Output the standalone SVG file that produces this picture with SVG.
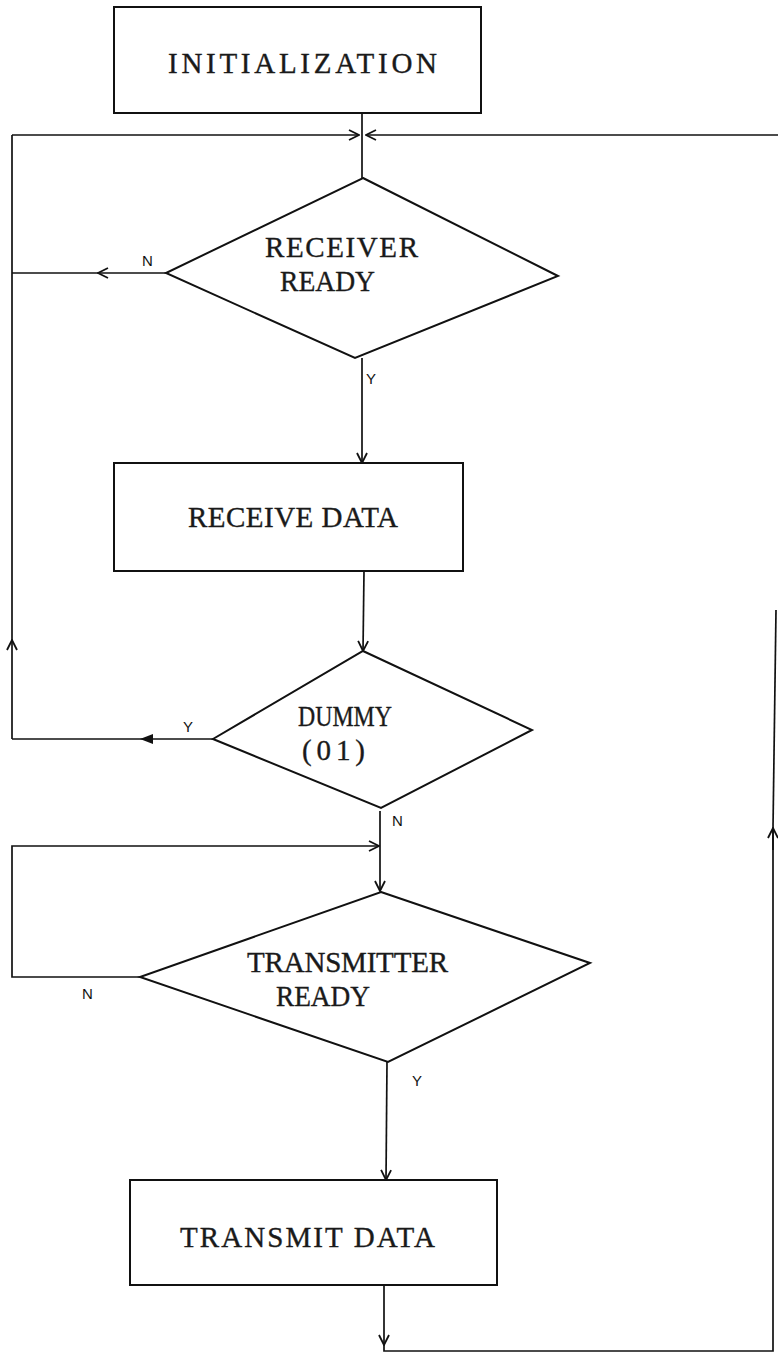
<svg xmlns="http://www.w3.org/2000/svg" width="778" height="1353" viewBox="0 0 778 1353">
  <style>
    .box { fill: none; stroke: #111; stroke-width: 2; }
    .dia { fill: none; stroke: #111; stroke-width: 2; stroke-linejoin: miter; }
    .ln  { fill: none; stroke: #111; stroke-width: 1.7; }
    .tw  { font-family: "Liberation Serif", "DejaVu Serif", serif; font-size: 29px; fill: #1a1a1a; stroke: #1a1a1a; stroke-width: 0.35; }
    .lb  { font-family: "Liberation Sans", Arial, sans-serif; font-size: 15px; fill: #111; }
  </style>
  <defs>
    <marker id="open" viewBox="0 0 12 12" refX="11" refY="6" markerWidth="12" markerHeight="12" markerUnits="userSpaceOnUse" orient="auto">
      <path d="M1,1 L11,6 L1,11" fill="none" stroke="#111" stroke-width="1.8"/>
    </marker>
    <marker id="solid" viewBox="0 0 14 12" refX="13" refY="6" markerWidth="16" markerHeight="12" markerUnits="userSpaceOnUse" orient="auto">
      <path d="M0,1 L13,6 L0,11 Z" fill="#111"/>
    </marker>
  </defs>
  <rect width="778" height="1353" fill="#fff"/>

  <!-- process and decision nodes -->
  <g id="init">
    <rect class="box" x="114" y="7" width="367" height="106"/>
    <text class="tw" x="168" y="73" textLength="269" lengthAdjust="spacing">INITIALIZATION</text>
  </g>
  <g id="rx-ready">
    <polygon class="dia" points="363,178 558,276 355,358 166,273"/>
    <text class="tw" x="265" y="257" textLength="153" lengthAdjust="spacing">RECEIVER</text>
    <text class="tw" x="280" y="291" textLength="95" lengthAdjust="spacingAndGlyphs">READY</text>
  </g>
  <g id="rx-data">
    <rect class="box" x="114" y="463" width="349" height="108"/>
    <text class="tw" x="188" y="527" textLength="210" lengthAdjust="spacing">RECEIVE DATA</text>
  </g>
  <g id="dummy">
    <polygon class="dia" points="363,651 532,730 381,808 213,739"/>
    <text class="tw" x="298" y="726" textLength="94" lengthAdjust="spacingAndGlyphs">DUMMY</text>
    <text class="tw" x="302" y="760" textLength="63" lengthAdjust="spacing">(01)</text>
  </g>
  <g id="tx-ready">
    <polygon class="dia" points="381,892 590,963 388,1062 140,977"/>
    <text class="tw" x="247" y="972" textLength="201" lengthAdjust="spacing">TRANSMITTER</text>
    <text class="tw" x="276" y="1006" textLength="94" lengthAdjust="spacingAndGlyphs">READY</text>
  </g>
  <g id="tx-data">
    <rect class="box" x="130" y="1180" width="367" height="105"/>
    <text class="tw" x="180" y="1247" textLength="255" lengthAdjust="spacing">TRANSMIT DATA</text>
  </g>

  <!-- connectors -->
  <g id="connectors">
    <!-- init to receiver-ready -->
    <line class="ln" x1="362" y1="113" x2="362" y2="178"/>
    <!-- loop returns meeting at the top junction -->
    <line class="ln" x1="12" y1="135" x2="359" y2="135" marker-end="url(#open)"/>
    <line class="ln" x1="778" y1="135" x2="366" y2="135" marker-end="url(#open)"/>
    <!-- receiver not ready: back to the top -->
    <line class="ln" x1="166" y1="273" x2="98" y2="273" marker-end="url(#open)"/>
    <line class="ln" x1="98" y1="273" x2="12" y2="273"/>
    <!-- left return line -->
    <line class="ln" x1="12" y1="739" x2="12" y2="640" marker-end="url(#open)"/>
    <line class="ln" x1="12" y1="640" x2="12" y2="135"/>
    <!-- receiver ready: receive data -->
    <line class="ln" x1="362" y1="358" x2="362" y2="463" marker-end="url(#open)"/>
    <!-- receive data to dummy test -->
    <line class="ln" x1="364" y1="571" x2="363" y2="651" marker-end="url(#open)"/>
    <!-- dummy byte: back to the top -->
    <line class="ln" x1="213" y1="739" x2="140" y2="739" marker-end="url(#solid)"/>
    <line class="ln" x1="140" y1="739" x2="12" y2="739"/>
    <!-- not dummy: transmitter ready test -->
    <line class="ln" x1="380" y1="811" x2="380" y2="891" marker-end="url(#open)"/>
    <!-- transmitter not ready: wait loop -->
    <polyline class="ln" points="140,977 12,977 12,846 379,846" marker-end="url(#open)"/>
    <!-- transmitter ready: transmit data -->
    <line class="ln" x1="387" y1="1062" x2="386" y2="1180" marker-end="url(#open)"/>
    <!-- transmit data: back to the top -->
    <line class="ln" x1="384" y1="1285" x2="384" y2="1345" marker-end="url(#open)"/>
    <polyline class="ln" points="384,1345 384,1351 773,1351 773,828"/>
    <line class="ln" x1="773" y1="850" x2="773" y2="828" marker-end="url(#open)"/>
    <line class="ln" x1="773" y1="828" x2="776" y2="610"/>
    <!-- branch labels -->
    <text class="lb" x="142" y="266">N</text>
    <text class="lb" x="366" y="384">Y</text>
    <text class="lb" x="183" y="732">Y</text>
    <text class="lb" x="392" y="826">N</text>
    <text class="lb" x="82" y="999">N</text>
    <text class="lb" x="412" y="1086">Y</text>
  </g>
</svg>
